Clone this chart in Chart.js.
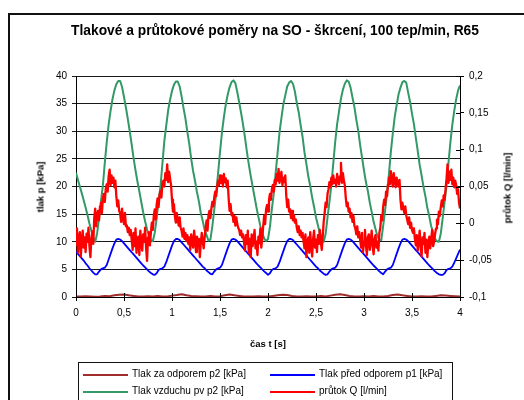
<!DOCTYPE html>
<html lang="cs">
<head>
<meta charset="utf-8">
<title>Tlakové a průtokové poměry na SO</title>
<script src="https://cdn.jsdelivr.net/npm/chart.js@4.4.1/dist/chart.umd.min.js"></script>
<style>
  html, body { margin: 0; padding: 0; background: #fff; }
  #wrap {
    position: relative; width: 524px; height: 400px; overflow: hidden;
    background: #fff; font-family: Arial, "Liberation Sans", sans-serif; color: #000;
  }
  #frame {
    position: absolute; left: 8px; top: 13px; width: 540px; height: 420px;
    border: 2px solid #111; box-sizing: border-box;
  }
  #chart { position: absolute; left: 0; top: 0; }
  .txt { position: absolute; white-space: nowrap; transform: translate(-50%, -50%); }
  .title { font-size: 13.8px; font-weight: bold; }
  .axis-title { font-size: 9.5px; font-weight: bold; }
  .rot { transform: translate(-50%, -50%) rotate(-90deg); }
  #legend {
    position: absolute; left: 78px; top: 362px; width: 375px; height: 46px;
    border: 1px solid #111; box-sizing: border-box; font-size: 10px;
  }
  .lg-item { position: absolute; height: 12px; }
  .lg-line { position: absolute; left: 0; top: 5px; width: 45px; height: 2px; }
  .lg-text { position: absolute; left: 49px; top: -1px; white-space: nowrap; }
</style>
</head>
<body>
<div id="wrap">
  <div id="frame"></div>
  <canvas id="chart" width="524" height="400"></canvas>
  <div class="txt title" style="left:275px; top:30px;">Tlakové a průtokové poměry na SO - škrcení, 100 tep/min, R65</div>
  <div class="txt axis-title" style="left:268px; top:343px;">čas t [s]</div>
  <div class="txt axis-title rot" style="left:40px; top:187px;">tlak p [kPa]</div>
  <div class="txt axis-title rot" style="left:507px; top:188px;">průtok Q [l/min]</div>
  <div id="legend"></div>
</div>
<script>
// Sampling steps of the recorded channels [s]
const STEP_P2 = 0.05;
const STEP_P = 0.02;
const STEP_Q = 0.01;

// Axis ranges
const TIME_RANGE = [0, 4, 0.5];
const PRESSURE_RANGE = [0, 40, 5];
const FLOW_RANGE = [-0.1, 0.2, 0.05];

// Tlak za odporem p2 [kPa]
const p2Values = [
  0.1, 0.1, 0.15, 0.1, 0.05, 0.1, 0.2, 0.15, 0.3, 0.4,
  0.45, 0.3, 0.2, 0.1, 0.1, 0.15, 0.1, 0.2, 0.1, 0.1,
  0.25, 0.35, 0.5, 0.3, 0.2, 0.15, 0.1, 0.1, 0.2, 0.1,
  0.15, 0.3, 0.45, 0.3, 0.2, 0.1, 0.1, 0.1, 0.15, 0.1,
  0.1, 0.2, 0.3, 0.4, 0.35, 0.2, 0.1, 0.1, 0.15, 0.1,
  0.1, 0.2, 0.1, 0.25, 0.4, 0.5, 0.35, 0.2, 0.1, 0.1,
  0.15, 0.1, 0.2, 0.1, 0.1, 0.2, 0.35, 0.45, 0.3, 0.2,
  0.1, 0.1, 0.15, 0.1, 0.1, 0.2, 0.3, 0.25, 0.2, 0.15,
  0.1
];

// Tlak před odporem p1 [kPa]
const p1Values = [
  8.2, 7.8, 7.4, 7.0, 6.6, 6.1, 5.7, 5.2, 4.8, 4.4, 4.1,
  4.1, 4.6, 5.0, 5.2, 5.3, 5.8, 6.8, 7.8, 8.8, 9.7, 10.4, 10.5, 10.4, 10.1, 9.7,
  9.3, 8.9, 8.5, 8.1, 7.7, 7.3, 6.9, 6.5, 6.1, 5.7, 5.35, 5.0, 4.65, 4.35, 4.1,
  4.0, 4.3, 4.9, 5.1, 5.2, 5.5, 6.3, 7.3, 8.3, 9.3, 10.1, 10.5, 10.5, 10.3, 9.9,
  9.5, 9.1, 8.7, 8.3, 7.9, 7.5, 7.1, 6.7, 6.3, 5.9, 5.5, 5.2, 4.8, 4.5, 4.2,
  4.1, 4.6, 5.0, 5.2, 5.3, 5.8, 6.8, 7.8, 8.8, 9.7, 10.4, 10.5, 10.4, 10.1, 9.7,
  9.3, 8.9, 8.5, 8.1, 7.7, 7.3, 6.9, 6.5, 6.1, 5.7, 5.35, 5.0, 4.65, 4.35,
  4.0, 4.3, 4.9, 5.1, 5.2, 5.5, 6.3, 7.3, 8.3, 9.3, 10.1, 10.5, 10.5, 10.3, 9.9,
  9.5, 9.1, 8.7, 8.3, 7.9, 7.5, 7.1, 6.7, 6.3, 5.9, 5.5, 5.2, 4.8, 4.5, 4.2, 4.0,
  4.1, 4.6, 5.0, 5.2, 5.3, 5.8, 6.8, 7.8, 8.8, 9.7, 10.4, 10.5, 10.4, 10.1, 9.7,
  9.3, 8.9, 8.5, 8.1, 7.7, 7.3, 6.9, 6.5, 6.1, 5.7, 5.35, 5.0, 4.65, 4.35,
  4.1, 4.6, 5.0, 5.2, 5.3, 5.8, 6.8, 7.8, 8.8, 9.7, 10.4, 10.5, 10.4, 10.1, 9.7,
  9.3, 8.9, 8.5, 8.1, 7.7, 7.3, 6.9, 6.5, 6.1, 5.7, 5.35, 5.0, 4.65, 4.35, 4.1, 4.0,
  4.0, 4.3, 4.9, 5.1, 5.2, 5.5, 6.2, 7.0, 7.8, 8.6
];

// Tlak vzduchu pv p2 [kPa]
const pvValues = [
  22.5, 21.2, 20.0, 18.8, 17.5, 16.2, 14.8, 13.3, 12.0, 10.8,
  10.0, 11.5, 14.3, 17.3, 20.2, 24.3, 28.0, 31.2, 33.7, 35.8, 37.4, 38.5, 39.1, 39.1, 38.0,
  36.2, 34.3, 32.2, 30.0, 27.6, 25.1, 22.9, 20.9, 19.1, 17.2, 15.3, 13.7, 12.2, 11.1, 10.3,
  10.1, 11.6, 14.2, 17.4, 20.0, 24.1, 28.2, 31.0, 33.8, 35.7, 37.3, 38.4, 39.0, 39.0, 38.1,
  36.3, 34.2, 32.3, 29.9, 27.7, 25.0, 22.8, 21.0, 19.0, 17.3, 15.2, 13.8, 12.1, 11.2, 10.2,
  10.4, 12.8, 15.8, 18.8, 22.4, 26.2, 29.7, 32.5, 34.8, 36.6, 38.0, 38.9, 39.2, 38.7, 37.1,
  35.2, 33.3, 31.2, 28.9, 26.3, 24.0, 21.9, 20.0, 18.1, 16.2, 14.5, 12.9, 11.6, 10.6, 10.1,
  10.5, 12.7, 15.9, 18.7, 22.5, 26.1, 29.8, 32.4, 34.9, 36.5, 38.1, 38.8, 39.1, 38.6, 37.2,
  35.1, 33.4, 31.1, 29.0, 26.2, 24.1, 21.8, 20.1, 18.0, 16.3, 14.4, 13.0, 11.5, 10.7,
  10.0, 11.4, 14.4, 17.2, 20.3, 24.2, 28.1, 31.3, 33.6, 35.9, 37.5, 38.6, 39.2, 39.0, 37.9,
  36.1, 34.4, 32.1, 30.1, 27.5, 25.2, 22.9, 20.8, 19.2, 17.1, 15.4, 13.6, 12.3, 11.0, 10.3,
  10.3, 12.9, 15.7, 18.9, 22.3, 26.3, 29.6, 32.6, 34.7, 36.7, 37.9, 38.9, 39.1, 38.8, 37.0,
  35.3, 33.2, 31.3, 28.8, 26.4, 23.9, 22.0, 19.9, 18.2, 16.1, 14.6, 12.8, 11.7, 10.5, 10.1,
  10.0, 11.5, 14.3, 17.3, 20.2, 24.3, 28.0, 31.2, 33.7, 35.8, 37.4, 38.3
];

// průtok Q [l/min]
const flowValues = [
  // 0.00 - 0.77 s
  -0.029, -0.007, -0.040, -0.021, -0.012, -0.045, -0.024, -0.010, -0.033, -0.019,
  -0.039, -0.014, -0.025, -0.006, -0.031, -0.046, -0.021, -0.011, -0.028,
  0.007, 0.020, -0.004, 0.011, 0.017, 0.004, 0.023, 0.028, 0.014, 0.034, 0.040, 0.029, 0.047, 0.053, 0.043,
  0.064, 0.073, 0.052, 0.065, 0.055, 0.062, 0.049, 0.058,
  0.037, 0.023, 0.031, 0.017,
  0.013, 0.002, 0.020, 0.007, -0.001, 0.014, -0.004,
  -0.003, -0.012, -0.006, -0.016, -0.009,
  -0.022, -0.036, -0.013, -0.031, -0.007, -0.040, -0.024, -0.018, -0.043, -0.010,
  -0.027, -0.037, -0.015, -0.025, -0.006, -0.033, -0.051, -0.019, -0.012, -0.030,
  // 0.78 - 1.34 s
  -0.013, 0.001, -0.009, 0.010, 0.019, 0.005, 0.025, 0.034, 0.022, 0.038, 0.044, 0.035, 0.055, 0.058,
  0.050, 0.068, 0.059, 0.080, 0.056, 0.070, 0.061, 0.052,
  0.032, 0.016, 0.026,
  0.010, 0.001, 0.014, 0.005, -0.003, 0.008, -0.006,
  -0.010, -0.018, -0.007, -0.021, -0.013, -0.024, -0.016,
  -0.028, -0.019, -0.036, -0.015, -0.025, -0.033, -0.010, -0.022, -0.039, -0.018,
  -0.030, -0.021, -0.046, -0.027, -0.013, -0.024, -0.034, -0.019,
  // 1.35 - 1.94 s
  -0.007, 0.004, -0.010, 0.011, 0.017, 0.007, 0.020, 0.029, 0.023, 0.035, 0.043, 0.037, 0.049,
  0.058, 0.052, 0.065, 0.055, 0.064, 0.050, 0.067, 0.056, 0.061, 0.049, 0.058,
  0.034, 0.017, 0.026, 0.011,
  0.014, 0.002, 0.010, -0.003, 0.008, -0.001, -0.006,
  -0.009, -0.016, -0.010, -0.019, -0.015,
  -0.025, -0.037, -0.016, -0.028, -0.010, -0.040, -0.021, -0.046, -0.015, -0.031,
  -0.022, -0.009, -0.034, -0.025, -0.043, -0.018, -0.027, -0.007, -0.033, -0.021,
  // 1.95 - 2.57 s
  -0.004, 0.010, -0.001, 0.019, 0.025, 0.016, 0.031, 0.040, 0.032, 0.046, 0.052, 0.043,
  0.059, 0.053, 0.067, 0.058, 0.074, 0.055, 0.064, 0.070, 0.052, 0.062, 0.056, 0.065,
  0.038, 0.022, 0.032, 0.016,
  0.019, 0.007, 0.017, 0.004, 0.011, 0.001, 0.005,
  -0.006, -0.012, -0.004, -0.016, -0.010, -0.019, -0.013,
  -0.024, -0.034, -0.015, -0.046, -0.027, -0.019, -0.040, -0.012, -0.031, -0.045,
  -0.021, -0.010, -0.033, -0.022, -0.039, -0.016, -0.028, -0.009, -0.025, -0.036, -0.018,
  // 2.58 - 3.16 s
  0.002, 0.014, 0.028, 0.022, 0.040, 0.046,
  0.056, 0.049, 0.062, 0.053, 0.065, 0.055, 0.059, 0.050, 0.067, 0.058,
  0.053, 0.064, 0.082, 0.055, 0.068, 0.058, 0.052,
  0.035, 0.023, 0.028, 0.016,
  0.020, 0.008, 0.014, 0.002, 0.010, -0.003,
  -0.007, -0.015, -0.004, -0.019, -0.012,
  -0.022, -0.033, -0.013, -0.039, -0.025, -0.009, -0.030, -0.043, -0.019, -0.015,
  -0.036, -0.024, -0.010, -0.031, -0.042, -0.021, -0.016, -0.033, -0.025, -0.037, -0.013,
  // 3.17 - 3.74 s
  -0.006, 0.011, 0.004, 0.023, 0.032, 0.025, 0.043, 0.037, 0.053,
  0.062, 0.053, 0.071, 0.059, 0.050, 0.068, 0.058, 0.049, 0.062, 0.055, 0.050, 0.059,
  0.032, 0.019, 0.028, 0.020, 0.014, 0.023, 0.011,
  0.005, -0.001, 0.008, -0.006, 0.001, -0.009, -0.013, -0.007,
  -0.021, -0.030, -0.016, -0.037, -0.024, -0.010, -0.033, -0.045, -0.019, -0.028, -0.013,
  -0.040, -0.022, -0.046, -0.027, -0.018, -0.034, -0.021, -0.009, -0.031, -0.025, -0.015,
  // 3.75 - 4.00 s
  -0.007, 0.005, -0.001, 0.016, 0.010, 0.022, 0.031, 0.023, 0.038, 0.032, 0.047,
  0.061, 0.080, 0.055, 0.070, 0.059, 0.073,
  0.053, 0.062, 0.049, 0.058, 0.052, 0.040, 0.046,
  0.028, 0.020
];

const COLORS = {
  p2: '#a02c2c',
  p1: '#0000ff',
  pv: '#339966',
  q: '#ff0000'
};

function toPoints(values, step) {
  return values.map((v, i) => ({ x: Math.round(i * step * 1000) / 1000, y: v }));
}

// decimal comma, as in the Czech locale
function fmtTick(v) {
  return String(Math.round(v * 100) / 100).replace('.', ',');
}

// short tick marks on the inner side of the time axis and the flow axis
const innerTicks = {
  id: 'innerTicks',
  afterDatasetsDraw(chart) {
    const { ctx, scales } = chart;
    const x = scales.x, y1 = scales.y1;
    ctx.save();
    ctx.strokeStyle = '#000';
    ctx.lineWidth = 1;
    ctx.beginPath();
    x.ticks.forEach(t => {
      const px = Math.round(x.getPixelForValue(t.value)) + 0.5;
      ctx.moveTo(px, x.top);
      ctx.lineTo(px, x.top - 4);
    });
    y1.ticks.forEach(t => {
      const py = Math.round(y1.getPixelForValue(t.value)) + 0.5;
      ctx.moveTo(y1.left, py);
      ctx.lineTo(y1.left - 4, py);
    });
    ctx.stroke();
    ctx.restore();
  }
};

const tickFont = { family: 'Arial, "Liberation Sans", sans-serif', size: 10 };

const datasets = [
  { label: 'Tlak za odporem p2 [kPa]', data: toPoints(p2Values, STEP_P2), borderColor: COLORS.p2, yAxisID: 'y', order: 3, borderWidth: 2 },
  { label: 'Tlak před odporem p1 [kPa]', data: toPoints(p1Values, STEP_P), borderColor: COLORS.p1, yAxisID: 'y', order: 2, borderWidth: 1.8 },
  { label: 'Tlak vzduchu pv p2 [kPa]', data: toPoints(pvValues, STEP_P), borderColor: COLORS.pv, yAxisID: 'y', order: 1, borderWidth: 2 },
  { label: 'průtok Q  [l/min]', data: toPoints(flowValues, STEP_Q), borderColor: COLORS.q, yAxisID: 'y1', order: 0, borderWidth: 2.3 }
];

const chart = new Chart(document.getElementById('chart'), {
  type: 'line',
  data: { datasets },
  options: {
    responsive: false,
    animation: false,
    devicePixelRatio: 1,
    layout: { padding: { top: 76, left: 0, right: 0, bottom: 0 } },
    elements: {
      point: { radius: 0 },
      line: { tension: 0, borderJoinStyle: 'round' }
    },
    plugins: {
      legend: { display: false },
      tooltip: { enabled: false },
      title: { display: false }
    },
    scales: {
      x: {
        type: 'linear',
        min: TIME_RANGE[0],
        max: TIME_RANGE[1],
        ticks: { stepSize: TIME_RANGE[2], color: '#000', font: tickFont, padding: 6, maxRotation: 0, callback: fmtTick },
        grid: { drawOnChartArea: false, drawTicks: true, tickLength: 4, color: '#000' },
        border: { color: '#000', width: 1 },
        afterFit: s => { s.height = 103; }
      },
      y: {
        position: 'left',
        min: PRESSURE_RANGE[0],
        max: PRESSURE_RANGE[1],
        ticks: { stepSize: PRESSURE_RANGE[2], color: '#000', font: tickFont, padding: 5, callback: fmtTick },
        grid: { color: '#1a1a1a', tickLength: 4, lineWidth: 1 },
        border: { color: '#000', width: 1 },
        afterFit: s => { s.width = 76; }
      },
      y1: {
        position: 'right',
        min: FLOW_RANGE[0],
        max: FLOW_RANGE[1],
        ticks: { stepSize: FLOW_RANGE[2], color: '#000', font: tickFont, padding: 5, callback: fmtTick },
        grid: { drawOnChartArea: false, tickLength: 4, color: '#000' },
        border: { color: '#000', width: 1 },
        afterFit: s => { s.width = 64; }
      }
    }
  },
  plugins: [innerTicks]
});

// legend box under the plot, two columns
const legend = document.getElementById('legend');
const legendSlots = [[4, 6], [191, 6], [4, 23], [191, 23]];
chart.data.datasets.forEach((ds, i) => {
  const item = document.createElement('div');
  item.className = 'lg-item';
  item.style.left = legendSlots[i][0] + 'px';
  item.style.top = legendSlots[i][1] + 'px';
  item.innerHTML = '<div class="lg-line" style="background:' + ds.borderColor + '"></div>' +
    '<div class="lg-text"></div>';
  item.querySelector('.lg-text').textContent = ds.label;
  legend.appendChild(item);
});
</script>
</body>
</html>
